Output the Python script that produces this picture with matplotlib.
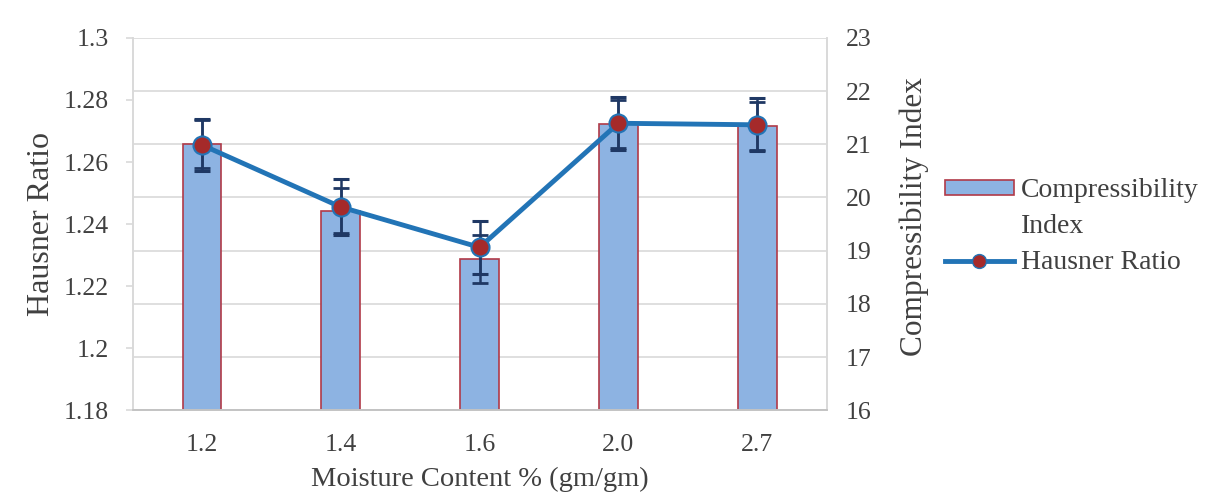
import numpy as np
import matplotlib
matplotlib.use("Agg")
import matplotlib.pyplot as plt
from matplotlib.lines import Line2D
from matplotlib.patches import Patch

# moisture content categories
moisture = ["1.2", "1.4", "1.6", "2.0", "2.7"]
# compressibility index (right axis, bars)
comp_index = [21.0, 19.75, 18.85, 21.38, 21.35]
comp_err = [0.45, 0.42, 0.45, 0.45, 0.45]
# hausner ratio (left axis, line)
hausner = [1.2655, 1.2455, 1.2325, 1.2725, 1.2720]
hausner_err = [0.0085, 0.009, 0.0085, 0.0085, 0.0085]

plt.rcParams["font.family"] = ["Liberation Serif", "DejaVu Serif"]
txt = "#404040"
grid_c = "#D9D9D9"

fig = plt.figure(figsize=(12.05, 4.93), dpi=100)
ax = fig.add_axes([0.110, 0.168, 0.576, 0.755])
ax2 = ax.twinx()

x = np.arange(len(moisture))

# bars on the secondary axis, drawn underneath the line
ax.set_zorder(ax2.get_zorder() + 1)
ax.patch.set_visible(False)

ax2.bar(x, comp_index, width=0.28, bottom=0, color="#8DB3E2",
        edgecolor="#B03A48", linewidth=1.2, zorder=2)
ax2.errorbar(x, comp_index, yerr=comp_err, fmt="none", ecolor="#1F3864",
             elinewidth=1.8, capsize=5.5, capthick=2, zorder=3)
ax2.set_ylim(16, 23)
ax2.set_yticks(range(16, 24))
ax2.set_ylabel("Compressibility Index", fontsize=22.5, color=txt)
ax2.yaxis.set_label_coords(1.105, 0.52)

ax.errorbar(x, hausner, yerr=hausner_err, fmt="none", ecolor="#1F3864",
            elinewidth=1.8, capsize=6, capthick=2.2, zorder=4)
ax.plot(x, hausner, color="#2274B6", linewidth=3.5, marker="o",
        markersize=13, markerfacecolor="#A52A2A", markeredgecolor="#2274B6",
        markeredgewidth=1.5, zorder=5)
ax.set_ylim(1.18, 1.3)
ax.set_yticks([1.18, 1.2, 1.22, 1.24, 1.26, 1.28, 1.3])
ax.set_yticklabels(["1.18", "1.2", "1.22", "1.24", "1.26", "1.28", "1.3"])
ax.set_xlim(-0.5, len(moisture) - 0.5)
ax.set_xticks(x)
ax.set_xticklabels(moisture)
ax.set_ylabel("Hausner Ratio", fontsize=23, color=txt)
ax.yaxis.set_label_coords(-0.111, 0.5)
ax.set_xlabel("Moisture Content % (gm/gm)", fontsize=20.5, color=txt)
ax.xaxis.set_label_coords(0.5, -0.152)

# light horizontal grid behind everything
ax2.grid(axis="y", color=grid_c, linewidth=1.2, zorder=0)
ax2.set_axisbelow(True)

ax.tick_params(axis="x", labelsize=18.5, labelcolor=txt, length=0, pad=17)
ax.tick_params(axis="y", labelsize=18.5, labelcolor=txt, length=5,
               color=grid_c, width=1.2, pad=12)
ax2.tick_params(axis="y", labelsize=18.5, labelcolor=txt, length=0, pad=14)
for a in (ax, ax2):
    for s in a.spines.values():
        s.set_color(grid_c)
        s.set_linewidth(1.2)
    a.spines["top"].set_visible(False)
ax.spines["bottom"].set_color("#BFBFBF")

handles = [
    Patch(facecolor="#8DB3E2", edgecolor="#B03A48", linewidth=1.2),
    Patch(visible=False),
    Line2D([0], [0], color="#2274B6", linewidth=3.5, marker="o", markersize=10,
           markerfacecolor="#A52A2A", markeredgecolor="#2274B6"),
]
labels = ["Compressibility", "Index", "Hausner Ratio"]
leg = fig.legend(handles, labels, loc="upper left", bbox_to_anchor=(0.784, 0.639),
                 frameon=False, fontsize=20, handlelength=2.5, handleheight=0.45,
                 handletextpad=0.25, labelspacing=0.4, borderpad=0,
                 borderaxespad=0)
for t in leg.get_texts():
    t.set_color(txt)

fig.savefig("out.png", dpi=100, facecolor="white")
